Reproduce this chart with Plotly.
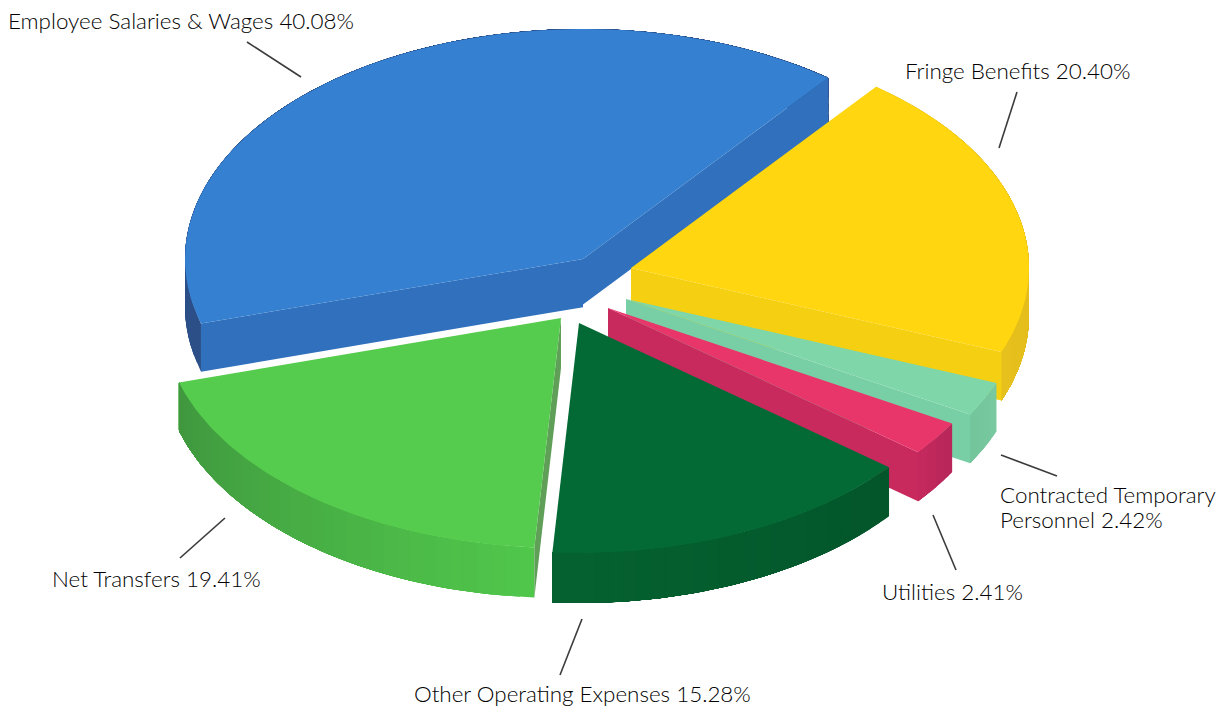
import numpy as np
import plotly.graph_objects as go

# Slice data, clockwise from Fringe Benefits
labels = ["Fringe Benefits", "Contracted Temporary<br>Personnel", "Utilities",
          "Other Operating Expenses", "Net Transfers", "Employee Salaries & Wages"]
shares = [20.40, 2.42, 2.41, 15.28, 19.41, 40.08]

# Exploded tip of each slice in pixels
tip_x = [631, 626, 608, 579, 561, 583]
tip_y = [268, 299, 308, 323, 318, 259]

# Colours
top_colors = ["#ffd60f", "#7fd6a8", "#e8366b", "#046a35", "#55cc4d", "#3580d0"]
wall_colors = ["#f5cf12", "#79cfa5", "#c92a5e", "#04612f", "#5f9f58", "#3070bc"]
rim_from = ["#e0b81e", "#78c8a0", "#b8265a", "#03562a", "#50c64b", "#2c4f88"]
rim_to = ["#e6c01c", "#72c49a", "#c82a5e", "#056230", "#3f963e", "#2c4f88"]

# Tilted disc
start_angle = 38
rx, ry = 398, 230
depth_back, depth_front = 45, 50

draw_order = [5, 0, 1, 2, 4, 3]

# Label text boxes and their leader lines
label_x = [903, 998, 880, 412, 50, 6]
label_y = [70, 494, 591, 693, 578, 20]
line_pitch = 25
leaders = [(1017, 92, 999, 148), (1001, 455, 1057, 476), (933, 515, 956, 570),
           (582, 619, 560, 675), (225, 518, 180, 558), (247, 42, 301, 77)]

fig = go.Figure()


def rim_point(i, theta):
    t = np.radians(theta)
    return tip_x[i] + rx * np.sin(t), tip_y[i] - ry * np.cos(t)


def depth(theta):
    c = np.cos(np.radians(theta))
    return (depth_back + depth_front) / 2 - c * (depth_front - depth_back) / 2


def poly(xs, ys, color):
    fig.add_trace(go.Scatter(
        x=list(xs) + [xs[0]], y=list(ys) + [ys[0]], mode="lines", fill="toself",
        fillcolor=color, line=dict(color=color, width=0),
        hoverinfo="skip", showlegend=False
    ))


def mix(c0, c1, f):
    a = [int(c0[k:k + 2], 16) for k in (1, 3, 5)]
    b = [int(c1[k:k + 2], 16) for k in (1, 3, 5)]
    return "rgb(%d,%d,%d)" % tuple(round(u + (v - u) * f) for u, v in zip(a, b))


edges = start_angle + np.cumsum([0] + shares) * 3.6

for i in draw_order:
    a0, a1 = edges[i], edges[i + 1]
    # outer rim: each band runs to the end of the arc, the next one paints over it
    steps = max(2, int((a1 - a0) / 2))
    angles = np.linspace(a0, a1, steps + 1)
    for k in range(steps):
        arc = np.linspace(angles[k], a1, 60)
        ax, ay = rim_point(i, arc)
        poly(list(ax) + list(ax[::-1]), list(ay) + list((ay + depth(arc))[::-1]),
             mix(rim_from[i], rim_to[i], k / steps))
    # radial walls, only the ones that face the viewer
    for a, normal in ((a0, a0 - 90), (a1, a1 + 90)):
        if np.cos(np.radians(normal)) < 0:
            px, py = rim_point(i, a)
            d = depth(a)
            poly([tip_x[i], px, px, tip_x[i]], [tip_y[i], py, py + d, tip_y[i] + d], wall_colors[i])
    # top face
    arc = np.linspace(a0, a1, 90)
    ax, ay = rim_point(i, arc)
    poly([tip_x[i]] + list(ax), [tip_y[i]] + list(ay), top_colors[i])

for i, lab in enumerate(labels):
    lines = f"{lab} {shares[i]:.2f}%".split("<br>")
    for n, line in enumerate(lines):
        fig.add_annotation(
            x=label_x[i], y=label_y[i] + n * line_pitch, text=line, showarrow=False,
            xanchor="left", yanchor="middle", align="left",
            font=dict(family="Lato", size=22.4, weight=300, color="#000000")
        )

for x0, y0, x1, y1 in leaders:
    fig.add_shape(type="line", x0=x0, y0=y0, x1=x1, y1=y1, line=dict(color="#3c3c3c", width=1.6))

fig.update_xaxes(range=[0, 1230], visible=False, fixedrange=True)
fig.update_yaxes(range=[709, 0], visible=False, fixedrange=True)
fig.update_layout(
    width=1230, height=709, margin=dict(l=0, r=0, t=0, b=0),
    paper_bgcolor="white", plot_bgcolor="white", showlegend=False
)

fig.write_html("out.html", config=dict(displayModeBar=False),
               post_script="document.body.style.margin='0';document.body.style.overflow='hidden';")
